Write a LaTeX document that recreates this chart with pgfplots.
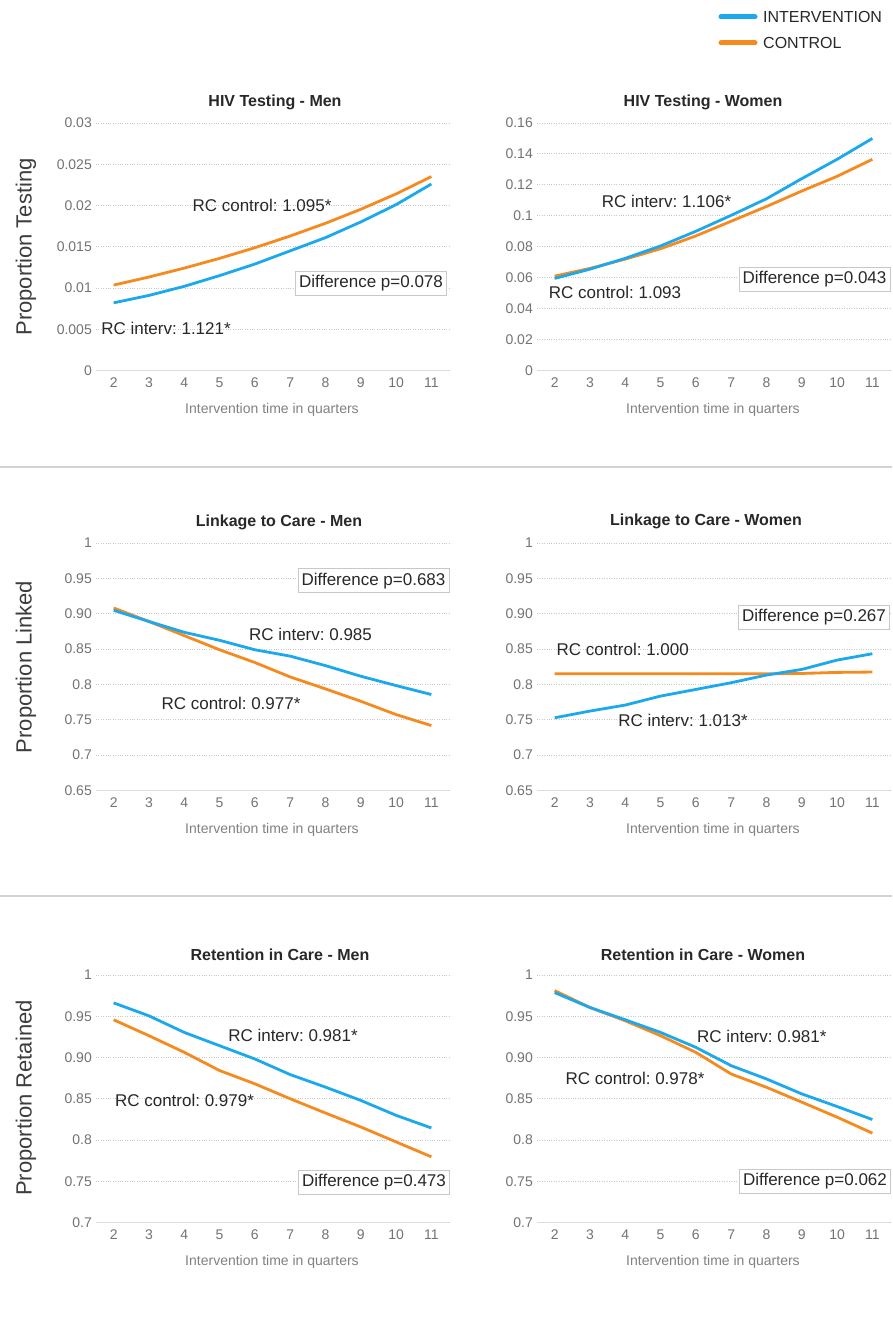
\documentclass[border=0pt]{standalone}
\usepackage{pgfplots}
\pgfplotsset{compat=1.18}
\usepackage{fontspec}
\setmainfont{Liberation Sans}
\frenchspacing
\definecolor{cblue}{RGB}{28,168,236}
\definecolor{corange}{RGB}{245,138,30}
\definecolor{tickgray}{RGB}{115,115,115}
\definecolor{gridgray}{RGB}{200,200,200}
\definecolor{axgray}{RGB}{220,220,220}
\definecolor{txt}{RGB}{40,40,40}
\pgfplotsset{
  panel/.style={
    scale only axis, width=353pt, height=247.5pt,
    xmin=1.5, xmax=11.5, xtick={2,...,11},
    axis x line*=bottom, axis y line*=left,
    x axis line style={draw=axgray, line width=1.6pt, -},
    y axis line style={draw=none},
    major tick length=0pt,
    scaled y ticks=false,
    ymajorgrids, grid style={dotted, draw=gridgray, line width=0.9pt},
    tick label style={font=\fontsize{14}{16}\selectfont, text=tickgray},
    xticklabel style={inner sep=0pt, yshift=-7pt},
    yticklabel style={inner sep=0pt, xshift=-4pt},
    /pgf/number format/assume math mode=true,
    clip=false,
  },
  bl/.style={color=cblue, line width=2.8pt, line join=round},
  ol/.style={color=corange, line width=2.8pt, line join=round},
}
\tikzset{
  ann/.style={font=\fontsize{17}{20}\selectfont, text=txt, inner sep=0pt},
  box/.style={font=\fontsize{17}{20}\selectfont, text=txt, draw=gridgray, line width=0.8pt, fill=white, inner xsep=3.5pt, minimum height=24pt},
  ttl/.style={font=\fontsize{16}{19}\bfseries\selectfont, text=txt},
  ylab/.style={font=\fontsize{22}{26}\selectfont, text=txt!90, rotate=90},
  xlab/.style={font=\fontsize{14}{16}\selectfont, text=tickgray!90},
}
\begin{document}
\begin{tikzpicture}
\useasboundingbox[fill=white] (0pt,0pt) rectangle (892pt,1325pt);

% ---------- Top left: HIV Testing - Men
\begin{axis}[panel, at={(96pt,954.5pt)}, anchor=south west,
  ymin=0, ymax=0.03, ytick={0,0.005,0.01,0.015,0.02,0.025,0.03},
  yticklabels={0,0.005,0.01,0.015,0.02,0.025,0.03}]
\addplot[ol] coordinates {(2,0.01035)(3,0.01133)(4,0.01241)(5,0.01359)(6,0.01488)(7,0.01630)(8,0.01784)(9,0.01954)(10,0.02140)(11,0.02350)};
\addplot[bl] coordinates {(2,0.0082)(3,0.0091)(4,0.0102)(5,0.0115)(6,0.0129)(7,0.0145)(8,0.0161)(9,0.0180)(10,0.0201)(11,0.0226)};
\end{axis}

% ---------- Top right: HIV Testing - Women
\begin{axis}[panel, at={(537pt,954.5pt)}, anchor=south west,
  ymin=0, ymax=0.16, ytick={0,0.02,0.04,0.06,0.08,0.1,0.12,0.14,0.16},
  yticklabels={0,0.02,0.04,0.06,0.08,0.1,0.12,0.14,0.16}]
\addplot[ol] coordinates {(2,0.0610)(3,0.0660)(4,0.0720)(5,0.0787)(6,0.0870)(7,0.0965)(8,0.1060)(9,0.1160)(10,0.1255)(11,0.1365)};
\addplot[bl] coordinates {(2,0.0595)(3,0.0655)(4,0.0725)(5,0.0805)(6,0.0900)(7,0.1003)(8,0.1110)(9,0.1240)(10,0.1365)(11,0.1500)};
\end{axis}

% ---------- Middle left: Linkage to Care - Men
\begin{axis}[panel, at={(96pt,534.5pt)}, anchor=south west,
  ymin=0.65, ymax=1, ytick={0.65,0.7,0.75,0.8,0.85,0.9,0.95,1},
  yticklabels={0.65,0.7,0.75,0.8,0.85,0.90,0.95,1}]
\addplot[ol] coordinates {(2,0.9081)(3,0.8890)(4,0.8690)(5,0.8490)(6,0.8310)(7,0.8106)(8,0.7937)(9,0.7762)(10,0.7574)(11,0.7418)};
\addplot[bl] coordinates {(2,0.9048)(3,0.8890)(4,0.8737)(5,0.8624)(6,0.8490)(7,0.8400)(8,0.8266)(9,0.8116)(10,0.7984)(11,0.7857)};
\end{axis}

% ---------- Middle right: Linkage to Care - Women
\begin{axis}[panel, at={(537pt,534.5pt)}, anchor=south west,
  ymin=0.65, ymax=1, ytick={0.65,0.7,0.75,0.8,0.85,0.9,0.95,1},
  yticklabels={0.65,0.7,0.75,0.8,0.85,0.90,0.95,1}]
\addplot[ol] coordinates {(2,0.8151)(3,0.8151)(4,0.8151)(5,0.8151)(6,0.8151)(7,0.8151)(8,0.8151)(9,0.8155)(10,0.8170)(11,0.8175)};
\addplot[bl] coordinates {(2,0.7528)(3,0.7623)(4,0.7708)(5,0.7835)(6,0.7929)(7,0.8024)(8,0.8132)(9,0.8212)(10,0.8344)(11,0.8434)};
\end{axis}

% ---------- Bottom left: Retention in Care - Men
\begin{axis}[panel, at={(96pt,102.5pt)}, anchor=south west,
  ymin=0.7, ymax=1, ytick={0.7,0.75,0.8,0.85,0.9,0.95,1},
  yticklabels={0.7,0.75,0.8,0.85,0.90,0.95,1}]
\addplot[ol] coordinates {(2,0.9457)(3,0.9264)(4,0.9063)(5,0.8842)(6,0.8681)(7,0.8500)(8,0.8327)(9,0.8158)(10,0.7977)(11,0.7796)};
\addplot[bl] coordinates {(2,0.9662)(3,0.9505)(4,0.9304)(5,0.9143)(6,0.8982)(7,0.8793)(8,0.8641)(9,0.8480)(10,0.8299)(11,0.8146)};
\end{axis}

% ---------- Bottom right: Retention in Care - Women
\begin{axis}[panel, at={(537pt,102.5pt)}, anchor=south west,
  ymin=0.7, ymax=1, ytick={0.7,0.75,0.8,0.85,0.9,0.95,1},
  yticklabels={0.7,0.75,0.8,0.85,0.90,0.95,1}]
\addplot[ol] coordinates {(2,0.9811)(3,0.9606)(4,0.9445)(5,0.9264)(6,0.9062)(7,0.8800)(8,0.8639)(9,0.8459)(10,0.8277)(11,0.8083)};
\addplot[bl] coordinates {(2,0.9787)(3,0.9606)(4,0.9457)(5,0.9304)(6,0.9123)(7,0.8901)(8,0.8740)(9,0.8559)(10,0.8406)(11,0.8248)};
\end{axis}

% titles
\node[ttl] at (275pt,1223pt) {HIV Testing - Men};
\node[ttl] at (703pt,1223pt) {HIV Testing - Women};
\node[ttl] at (279pt,803pt) {Linkage to Care - Men};
\node[ttl] at (706pt,804pt) {Linkage to Care - Women};
\node[ttl] at (280pt,370pt) {Retention in Care - Men};
\node[ttl] at (703pt,370pt) {Retention in Care - Women};

% y labels
\node[ylab] at (26pt,1078pt) {Proportion Testing};
\node[ylab] at (26pt,658pt) {Proportion Linked};
\node[ylab] at (26pt,227pt) {Proportion Retained};

% x labels
\foreach \yy in {915,495,63}{
  \node[xlab] at (272pt,\yy pt) {Intervention time in quarters};
  \node[xlab] at (713pt,\yy pt) {Intervention time in quarters};
}

% separators
\draw[draw=gray!35, line width=2pt] (0pt,858.3pt) -- (892pt,858.3pt);
\draw[draw=gray!35, line width=2pt] (0pt,429pt) -- (892pt,429pt);

% legend
\draw[cblue, line width=5pt, line cap=round] (721pt,1308pt) -- (755pt,1308pt);
\node[anchor=west, font=\fontsize{16}{19}\selectfont, text=txt, inner sep=0pt] at (763pt,1308pt) {INTERVENTION};
\draw[corange, line width=5pt, line cap=round] (721pt,1282pt) -- (755pt,1282pt);
\node[anchor=west, font=\fontsize{16}{19}\selectfont, text=txt, inner sep=0pt] at (763pt,1282pt) {CONTROL};

% annotations
\node[ann] at (262pt,1120pt) {RC control: 1.095*};
\node[ann] at (166pt,997pt) {RC interv: 1.121*};
\node[box] at (371pt,1042pt) {Difference p=0.078};

\node[ann] at (666.5pt,1123.3pt) {RC interv: 1.106*};
\node[ann] at (615pt,1032.3pt) {RC control: 1.093};
\node[box] at (814.5pt,1046pt) {Difference p=0.043};

\node[box] at (373.5pt,744.3pt) {Difference p=0.683};
\node[ann] at (310.5pt,691pt) {RC interv: 0.985};
\node[ann] at (231pt,622pt) {RC control: 0.977*};

\node[box] at (814pt,708pt) {Difference p=0.267};
\node[ann] at (622.7pt,676pt) {RC control: 1.000};
\node[ann] at (683pt,605pt) {RC interv: 1.013*};

\node[ann] at (293pt,290pt) {RC interv: 0.981*};
\node[ann] at (184.5pt,225pt) {RC control: 0.979*};
\node[box] at (374pt,143pt) {Difference p=0.473};

\node[ann] at (761.8pt,288.3pt) {RC interv: 0.981*};
\node[ann] at (635pt,247pt) {RC control: 0.978*};
\node[box] at (815pt,144pt) {Difference p=0.062};
\end{tikzpicture}
\end{document}
